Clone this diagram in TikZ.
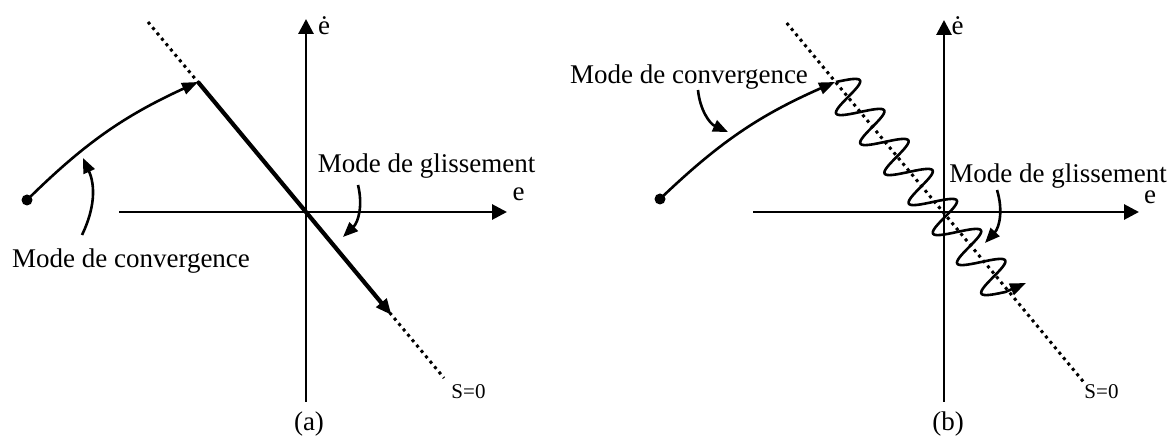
\documentclass[tikz,border=0pt]{standalone}
\usepackage{fontspec}
\setmainfont{Liberation Serif}
\usetikzlibrary{arrows.meta}
\begin{document}
\begin{tikzpicture}[x=0.5pt,y=-0.5pt,
  axis/.style={line width=1.45pt,-{Triangle[length=7.5pt,width=7.5pt]}},
  slide/.style={line width=2.1pt,-{Triangle[length=8pt,width=6.5pt]}},
  traj/.style={line width=1.3pt,-{Triangle[length=8pt,width=6pt]}},
  pointer/.style={line width=1.3pt,-{Triangle[length=7.5pt,width=6pt]}},
  surf/.style={line width=1.5pt,dash pattern=on 1.5pt off 2pt},
  lbl/.style={font=\fontsize{13.5}{16}\selectfont,inner sep=0pt,anchor=base},
  small/.style={font=\fontsize{10.5}{12}\selectfont,inner sep=0pt,anchor=base},
  dotpt/.style={circle,fill,inner sep=0pt,minimum size=5.5pt}]
\useasboundingbox (0,0) rectangle (1174,438);

% ---------- panel (a) ----------
\coordinate (aL) at (119,212);
\coordinate (aR) at (507,212);
\coordinate (aB) at (306,402);
\coordinate (aT) at (306,19);
\draw[axis] (aL) -- (aR);
\draw[axis] (aB) -- (aT);
\coordinate (aS1) at (148,22);
\coordinate (aS2) at (444,378);
\draw[surf] (aS1) -- (aS2);
\coordinate (aHit) at (198,82);
\coordinate (aEnd) at (391.5,315);
\node[dotpt] (aStart) at (27,200) {};
\draw[traj] (aStart.center) to[bend left=10] (aHit);
\draw[slide] (aHit) -- (aEnd);

\node[lbl] (aConv) at (131,268) {Mode de convergence};
\node[lbl] (aGlis) at (426.5,173) {Mode de glissement};
\node[lbl] (aE) at (518.5,201) {e};
\node[lbl] (aEd) at (324,35) {ė};
\node[lbl] (aCap) at (309,431) {(a)};
\node[small] (aSz) at (468.5,399) {S=0};

\coordinate (aP1s) at (82,235);
\coordinate (aP1e) at (83,158);
\draw[pointer] (aP1s) to[bend right=25] (aP1e);
\coordinate (aP2s) at (358,185);
\coordinate (aP2e) at (343,237);
\draw[pointer] (aP2s) to[bend left=30] (aP2e);

% ---------- panel (b) ----------
\coordinate (bL) at (753,212);
\coordinate (bR) at (1139,212);
\coordinate (bB) at (944,402);
\coordinate (bT) at (944,20);
\draw[axis] (bL) -- (bR);
\draw[axis] (bB) -- (bT);
\coordinate (bS1) at (786.7,23);
\coordinate (bS2) at (1083.6,382);
\draw[surf] (bS1) -- (bS2);
\coordinate (bHit) at (835,82);
\coordinate (bEnd) at (1026,283);
\node[dotpt] (bStart) at (660,199) {};
\draw[traj] (bStart.center) to[bend left=10] (bHit);
\draw[traj] plot[domain=0:7, samples=300, variable=\t]
  ({836+24.2*\t+17.75*sin(360*\t)}, {82+30*\t-9.35*sin(360*\t)}) -- (bEnd);

\node[lbl] (bConv) at (689,84) {Mode de convergence};
\node[lbl] (bGlis) at (1058,183) {Mode de glissement};
\node[lbl] (bE) at (1150,204) {e};
\node[lbl] (bEd) at (957.5,35) {ė};
\node[lbl] (bCap) at (948,431) {(b)};
\node[small] (bSz) at (1101.5,399) {S=0};

\coordinate (bP1s) at (698,90);
\coordinate (bP1e) at (728,132);
\draw[pointer] (bP1s) to[bend right=30] (bP1e);
\coordinate (bP2s) at (997,190);
\coordinate (bP2e) at (985,243);
\draw[pointer] (bP2s) to[bend left=30] (bP2e);
\end{tikzpicture}
\end{document}
